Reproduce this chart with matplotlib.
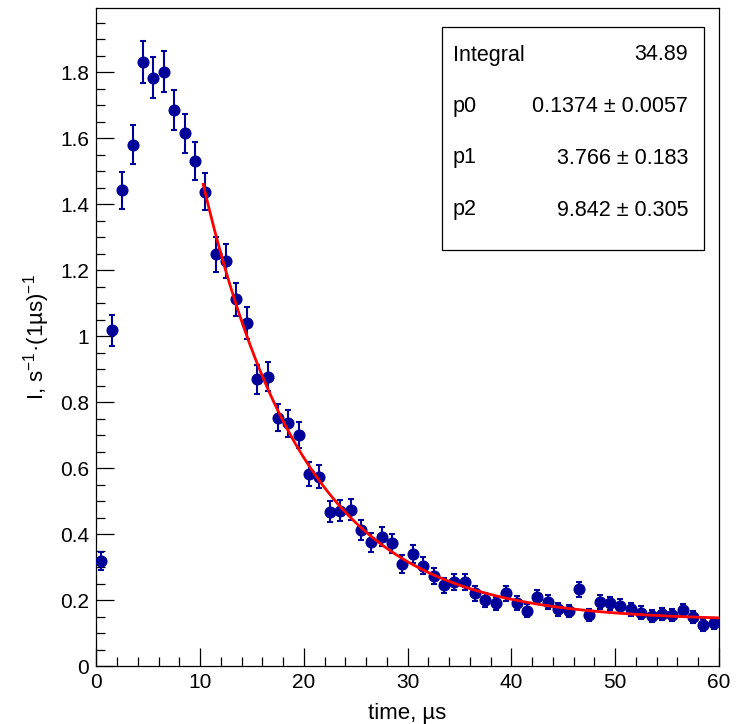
"""
Decay-time spectrum with exponential-plus-constant fit, ROOT-like look.
"""
import numpy as np
import matplotlib
matplotlib.use("Agg")
import matplotlib.pyplot as plt
from matplotlib.patches import Rectangle
from matplotlib.ticker import MultipleLocator, FuncFormatter

# 1 us bins, centres at k + 0.5
time_us = np.arange(60) + 0.5
rate = [
    0.318, 1.018, 1.442, 1.579, 1.831, 1.783, 1.801, 1.685, 1.614, 1.531,
    1.437, 1.248, 1.228, 1.111, 1.040, 0.869, 0.877, 0.752, 0.735, 0.700,
    0.581, 0.574, 0.468, 0.470, 0.473, 0.412, 0.375, 0.392, 0.372, 0.309,
    0.339, 0.304, 0.273, 0.245, 0.255, 0.255, 0.220, 0.200, 0.190, 0.220,
    0.192, 0.168, 0.208, 0.195, 0.172, 0.167, 0.232, 0.155, 0.195, 0.190,
    0.182, 0.172, 0.162, 0.152, 0.158, 0.155, 0.170, 0.149, 0.124, 0.129,
]
rate_err = [
    0.027, 0.047, 0.056, 0.059, 0.064, 0.063, 0.063, 0.061, 0.060, 0.058,
    0.056, 0.053, 0.052, 0.050, 0.048, 0.044, 0.044, 0.041, 0.040, 0.039,
    0.036, 0.036, 0.032, 0.032, 0.032, 0.030, 0.029, 0.029, 0.029, 0.026,
    0.027, 0.026, 0.025, 0.023, 0.024, 0.024, 0.022, 0.021, 0.020, 0.022,
    0.021, 0.019, 0.021, 0.021, 0.020, 0.019, 0.023, 0.019, 0.021, 0.020,
    0.020, 0.020, 0.019, 0.018, 0.019, 0.019, 0.019, 0.018, 0.017, 0.017,
]

# fit model p0 + p1*exp(-t/p2), parameters as printed in the stats box
P0, P1, P2 = 0.1374, 3.766, 9.842
FIT_RANGE = (10.3, 60.0)

stat_names = ["Integral", "p0", "p1", "p2"]
stat_values = ["34.89", "0.1374 ± 0.0057", "3.766 ± 0.183", "9.842 ± 0.305"]

MARKER_COLOR = "#000099"
W, H = 738, 724


def fx(px):
    return px / W


def fy(px):
    return 1 - px / H


plt.rcParams.update({
    "font.family": ["Liberation Sans", "DejaVu Sans"],
    "mathtext.fontset": "custom",
    "mathtext.rm": "Liberation Sans",
    "mathtext.it": "Liberation Sans:italic",
    "mathtext.bf": "Liberation Sans:bold",
})

fig = plt.figure(figsize=(W / 100, H / 100), dpi=100)
ax = fig.add_axes([fx(96.3), 1 - 666 / H, (719 - 96.3) / W, (666 - 8) / H])

ax.errorbar(time_us, rate, yerr=rate_err, fmt="o", ms=7.7,
            mfc=MARKER_COLOR, mec=MARKER_COLOR, ecolor=MARKER_COLOR,
            elinewidth=1.5, capsize=2.5, capthick=1.5, zorder=3)

t_fit = np.linspace(*FIT_RANGE, 300)
ax.plot(t_fit, P0 + P1 * np.exp(-t_fit / P2), color="#ff0000",
        linewidth=2.0, zorder=4)

ax.set_xlim(0, 60)
ax.set_ylim(0, 1.994)
ax.xaxis.set_major_locator(MultipleLocator(10))
ax.xaxis.set_minor_locator(MultipleLocator(2))
ax.yaxis.set_major_locator(MultipleLocator(0.2))
ax.yaxis.set_minor_locator(MultipleLocator(0.05))
fmt = FuncFormatter(lambda v, _: f"{v:g}")
ax.xaxis.set_major_formatter(fmt)
ax.yaxis.set_major_formatter(fmt)
ax.tick_params(which="both", direction="in", top=False, right=False,
               width=0.9, labelsize=15, color="black")
ax.tick_params(which="major", length=13)
ax.tick_params(which="minor", length=6.5)
ax.tick_params(axis="y", pad=5)
ax.tick_params(axis="x", pad=5)
for sp in ax.spines.values():
    sp.set_linewidth(0.9)

fig.text(fx(407), fy(719), "time, µs", ha="center", va="baseline", fontsize=16)
fig.text(fx(37), fy(337), "I, s$^{-1}$·(1µs)$^{-1}$", ha="center",
         va="center", rotation=90, fontsize=16)

# stats box
fig.patches.append(Rectangle((fx(441.7), fy(250)), fx(704) - fx(441.7),
                             fy(26.7) - fy(250), transform=fig.transFigure,
                             facecolor="white", edgecolor="black",
                             linewidth=0.9, zorder=5))
row_y = [55, 106.7, 158, 210]
for name, val, yy in zip(stat_names, stat_values, row_y):
    fig.text(fx(453), fy(yy), name, ha="left", va="center", fontsize=15.5,
             zorder=6)
    fig.text(fx(688.3), fy(yy), val, ha="right", va="center", fontsize=15.5,
             zorder=6)

fig.savefig("out.png", dpi=100)
